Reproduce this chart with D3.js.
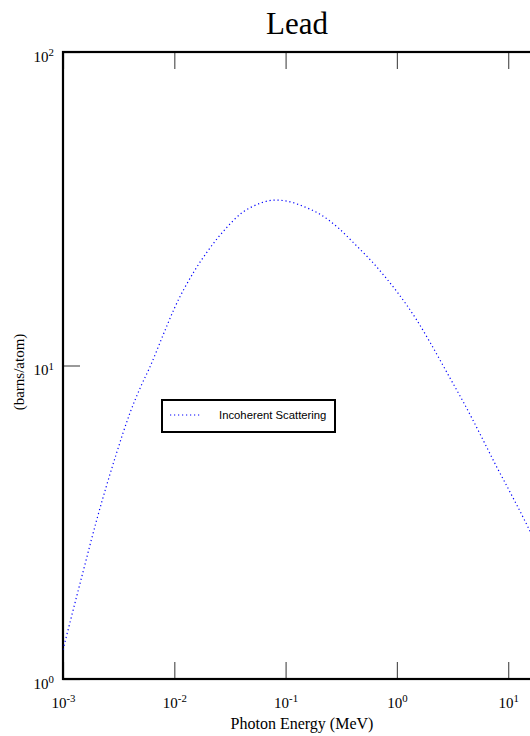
<!DOCTYPE html>
<html>
<head>
<meta charset="utf-8">
<script src="https://cdn.jsdelivr.net/npm/d3@7"></script>
<style>
    body { margin: 0; background: #ffffff; }
    svg { display: block; }
</style>
</head>
<body>
<svg id="chart" width="530" height="736"></svg>
<script>
// photon energy (MeV) and incoherent scattering cross section (barns/atom)
let energy = [0.001, 0.0015, 0.002, 0.003, 0.004, 0.005, 0.006, 0.008,
              0.01, 0.015, 0.02, 0.03, 0.04, 0.05, 0.06, 0.08,
              0.1, 0.15, 0.2, 0.3, 0.4, 0.5, 0.6, 0.8,
              1, 1.5, 2, 3, 4, 5, 6, 8, 10, 15, 20];
let incoherent = [1.24, 2.17, 3.20, 5.20, 7.06, 8.57, 9.84, 12.6,
                  15.2, 19.9, 23.2, 27.7, 30.6, 32.1, 33.0, 33.7,
                  33.5, 32.0, 30.5, 27.4, 24.8, 22.9, 21.4, 19.0,
                  17.2, 14.0, 11.8, 9.12, 7.59, 6.53, 5.75, 4.70, 4.05, 3.06, 2.47];

let xTicks = [1e-3, 1e-2, 1e-1, 1e0, 1e1];
let xExp = ['-3', '-2', '-1', '0', '1'];
let yTicks = [1, 10, 100];
let yExp = ['0', '1', '2'];

let title = 'Lead';
let xLabel = 'Photon Energy (MeV)';
let yLabel = '(barns/atom)';
let seriesName = 'Incoherent Scattering';

function power_label(sel, exps) {
    // "10" with a small raised exponent
    sel.each(function (d, i) {
        let t = d3.select(this).text('');
        t.append('tspan').text('10');
        t.append('tspan')
            .attr('dy', '-0.5em')
            .style('font-size', '0.72em')
            .text(exps[i]);
    });
}

function loglog_plot_aw(X, Y, axis_key)
{
    let svg = d3.select(`#${axis_key}`);
    let left = 63, top = 52, bottom = 679;
    let decade = 111.3;
    let xMax = 23;
    let right = left + decade * Math.log10(xMax / 1e-3);
    let serif = '"Liberation Serif", "Times New Roman", serif';

    let xScale = d3.scaleLog()
        .domain([1e-3, xMax])
        .range([left, right]);
    let yScale = d3.scaleLog()
        .domain([1, 100])
        .range([bottom, top]);

    svg.append('clipPath')
        .attr('id', 'plotclip')
        .append('rect')
        .attr('x', left).attr('y', top)
        .attr('width', right - left).attr('height', bottom - top);

    // ticks pointing in, on all four sides
    let tickLen = 17;
    let axes = [
        [d3.axisBottom(xScale).tickValues(xTicks), `translate(0,${bottom})`, 'xb'],
        [d3.axisTop(xScale).tickValues(xTicks), `translate(0,${top})`, 'xt'],
        [d3.axisLeft(yScale).tickValues(yTicks), `translate(${left},0)`, 'yl'],
        [d3.axisRight(yScale).tickValues(yTicks), `translate(${right},0)`, 'yr']
    ];
    axes.forEach(function (a) {
        let g = svg.append('g')
            .attr('class', a[2])
            .attr('transform', a[1])
            .call(a[0].tickSizeInner(-tickLen).tickSizeOuter(0).tickPadding(9));
        g.select('.domain').remove();
        g.selectAll('.tick line').attr('stroke', '#555').attr('stroke-width', 1.2);
        g.selectAll('.tick text')
            .style('font-family', serif)
            .style('font-size', '15px')
            .attr('fill', '#000');
    });

    svg.selectAll('.xt .tick text, .yr .tick text').remove();

    svg.selectAll('.xb .tick text')
        .attr('y', 18)
        .attr('dy', '0.71em')
        .call(power_label, xExp);
    svg.selectAll('.yl .tick text')
        .attr('dy', '0.62em')
        .call(power_label, yExp);

    // frame
    svg.append('rect')
        .attr('x', left).attr('y', top)
        .attr('width', right - left).attr('height', bottom - top)
        .attr('fill', 'none')
        .attr('stroke', '#000')
        .attr('stroke-width', 2.2);

    let line = d3.line()
        .x(function (d, i) { return xScale(X[i]); })
        .y(function (d) { return yScale(d); })
        .curve(d3.curveMonotoneX);

    svg.append('path')
        .datum(Y)
        .attr('clip-path', 'url(#plotclip)')
        .attr('d', line)
        .attr('fill', 'none')
        .attr('stroke', '#0000ff')
        .attr('stroke-width', 1.2)
        .attr('stroke-dasharray', '1.2,2.8');

    svg.append('text')
        .attr('x', 297).attr('y', 34)
        .attr('text-anchor', 'middle')
        .style('font-family', serif)
        .style('font-size', '31px')
        .text(title);

    svg.append('text')
        .attr('x', 302).attr('y', 729)
        .attr('text-anchor', 'middle')
        .style('font-family', serif)
        .style('font-size', '16px')
        .text(xLabel);

    svg.append('text')
        .attr('transform', 'translate(24,372) rotate(-90)')
        .attr('text-anchor', 'middle')
        .style('font-family', serif)
        .style('font-size', '15px')
        .text(yLabel);

    // legend
    let leg = svg.append('g').attr('transform', 'translate(162,400)');
    leg.append('rect')
        .attr('width', 173).attr('height', 32)
        .attr('fill', '#fff')
        .attr('stroke', '#000')
        .attr('stroke-width', 2);
    leg.append('line')
        .attr('x1', 8).attr('x2', 39)
        .attr('y1', 15).attr('y2', 15)
        .attr('stroke', '#0000ff')
        .attr('stroke-width', 1.2)
        .attr('stroke-dasharray', '1.2,2.8');
    leg.append('text')
        .attr('x', 57).attr('y', 19)
        .style('font-family', '"Liberation Sans", Arial, sans-serif')
        .style('font-size', '11.3px')
        .text(seriesName);
}

loglog_plot_aw(energy, incoherent, 'chart');
</script>
</body>
</html>
